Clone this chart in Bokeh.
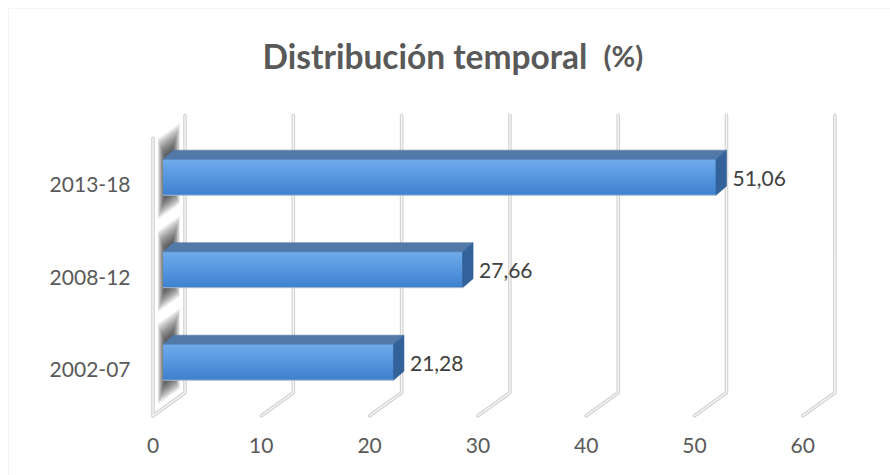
from bokeh.plotting import figure
from bokeh.models import Range1d, BoxAnnotation
from bokeh.core.properties import value
from bokeh.embed import file_html
from bokeh.resources import INLINE

# ---------------- data ----------------
categories = ["2002-07", "2008-12", "2013-18"]
values = [21.28, 27.66, 51.06]
value_labels = ["21,28", "27,66", "51,06"]
x_ticks = [0, 10, 20, 30, 40, 50, 60]
x_tick_labels = ["0", "10", "20", "30", "40", "50", "60"]
title_main = "Distribución temporal"
title_unit = "(%)"

# ---------------- layout / style ----------------
W, H = 890, 475
SX = 10.83      # px per value unit
SY = 92.5       # px per category step
X0PX = 152.5    # pixel of value 0 on the front plane
Y0PX = 369.0    # pixel of first category centre on the front plane


def px_x(px):
    return (px - X0PX) / SX


def px_y(py):
    return (Y0PX - py) / SY


# depth offsets (data units)
DX, DY = 32 / SX, 23 / SY          # floor / wall depth
FX, FY = 10 / SX, 7.3 / SY         # bar front-face offset
BX, BY = 10.5 / SX, 9 / SY         # bar depth
BH = 18 / SY                       # bar half height
LO, HI = -0.5, len(categories) - 0.5

FONT = value("Lato")
TEXT_COL = "#595959"

p = figure(width=W, height=H,
           x_range=Range1d(px_x(0), px_x(W)),
           y_range=Range1d(px_y(H), px_y(0)),
           output_backend="svg", toolbar_location=None,
           x_axis_location=None, y_axis_location=None,
           min_border=0)
p.grid.visible = False
p.outline_line_color = None
p.background_fill_color = "white"
p.border_fill_color = "white"

# chart border
p.add_layout(BoxAnnotation(left=px_x(8), right=px_x(W + 10), bottom=px_y(H + 10), top=px_y(8),
                           fill_alpha=0, line_color="#d9d9d9", line_width=1))

# ---------------- walls / grid ----------------
xs, ys = [], []
for v in x_ticks:
    xs.append([v + DX, v + DX, v])
    ys.append([HI + DY, LO + DY, LO])
xs.append([0, 0])
ys.append([LO, HI])
p.multi_line(xs, ys, line_color="#d2d2d2", line_width=3.6, line_join="round", line_cap="round")
p.multi_line(xs, ys, line_color="#f8f8f8", line_width=1.3, line_join="round", line_cap="round")

# ---------------- soft shadows on the left wall ----------------
layers = 12
for c in range(len(categories)):
    for k in range(layers):
        f = k / (layers - 1)
        t0 = 0.15 + 0.22 * f
        t1 = 0.84 - 0.24 * f
        ylo = c - BH - 0.22 + 0.19 * f
        yhi = c + BH + 0.26 - 0.24 * f
        sx = [t0 * DX, t1 * DX, t1 * DX, t0 * DX]
        sy = [ylo + t0 * DY, ylo + t1 * DY, yhi + t1 * DY, yhi + t0 * DY]
        p.patch(sx, sy, fill_color="black", fill_alpha=0.08, line_color=None)

# ---------------- bars ----------------
stops = [(0.0, (0x3E, 0x80, 0xCE)), (0.5, (0x56, 0x96, 0xDF)), (1.0, (0x70, 0xAB, 0xEA))]


def color_at(f):
    for (a, ca), (b, cb) in zip(stops[:-1], stops[1:]):
        if a <= f <= b:
            g = (f - a) / (b - a)
            r = [round(ca[i] + (cb[i] - ca[i]) * g) for i in range(3)]
            return "#%02x%02x%02x" % tuple(r)
    return "#%02x%02x%02x" % stops[-1][1]


# gradient: stacked quads, each reaching the bar top (no seams)
N = 18
ql, qr, qb, qt, qc = [], [], [], [], []
for c, v in enumerate(values):
    yb = c + FY - BH
    yt = c + FY + BH
    for k in range(N):
        f0 = k / N
        ql.append(FX)
        qr.append(v + FX)
        qb.append(yb + 2 * BH * f0)
        qt.append(yt)
        qc.append(color_at((k + 0.5) / N))
p.quad(left=ql, right=qr, bottom=qb, top=qt, fill_color=qc, line_color=None)

top_x, top_y, side_x, side_y = [], [], [], []
for c, v in enumerate(values):
    yt = c + FY + BH
    yb = c + FY - BH
    top_x.append([FX, v + FX, v + FX + BX, FX + BX])
    top_y.append([yt, yt, yt + BY, yt + BY])
    side_x.append([v + FX, v + FX + BX, v + FX + BX, v + FX])
    side_y.append([yb, yb + BY, yt + BY, yt])
p.patches(top_x, top_y, fill_color="#5379a8", line_color="#5379a8", line_width=0.6)
p.patches(side_x, side_y, fill_color="#33629a", line_color="#33629a", line_width=0.6)

# light bottom edge of bars
p.segment(x0=[FX] * len(values), y0=[c + FY - BH for c in range(len(values))],
          x1=[v + FX for v in values], y1=[c + FY - BH for c in range(len(values))],
          line_color="#a9bbd0", line_width=1)

# ---------------- texts ----------------
p.text(x=[v + FX + BX + 6 / SX for v in values],
       y=[c + FY - 1 / SY for c in range(len(values))],
       text=value_labels, text_font=FONT, text_font_size="21px",
       text_color="#404040", text_align="left", text_baseline="middle")

p.text(x=[-22.5 / SX] * len(categories), y=list(range(len(categories))),
       text=categories, text_font=FONT, text_font_size="21px",
       text_color=TEXT_COL, text_align="right", text_baseline="middle")

p.text(x=x_ticks, y=[LO - 30 / SY] * len(x_ticks), text=x_tick_labels,
       text_font=FONT, text_font_size="21px", text_color=TEXT_COL,
       text_align="center", text_baseline="middle")

p.text(x=[px_x(262)], y=[px_y(55)], text=[title_main], text_font=FONT,
       text_font_size="33.5px", text_font_style="bold", text_color=TEXT_COL,
       text_align="left", text_baseline="alphabetic")
p.text(x=[px_x(603)], y=[px_y(55)], text=[title_unit], text_font=FONT,
       text_font_size="29px", text_font_style="bold", text_color=TEXT_COL,
       text_align="left", text_baseline="alphabetic")

open("out.html", "w").write(file_html(p, INLINE))
